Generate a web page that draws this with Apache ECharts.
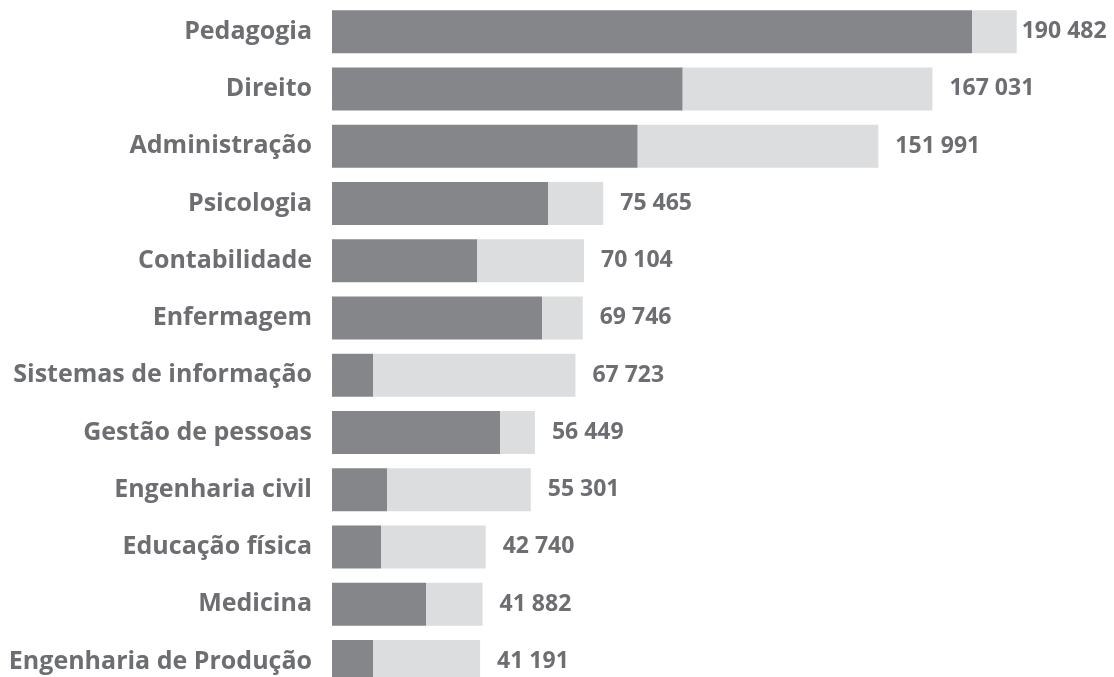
<!DOCTYPE html>
<html>
<head>
<meta charset="utf-8">
<script src="https://cdn.jsdelivr.net/npm/echarts@6/dist/echarts.min.js"></script>
<style>
html,body{margin:0;padding:0;background:#fff;overflow:hidden;}
#chart{width:1114px;height:700px;}
</style>
</head>
<body>
<div id="chart"></div>
<script>
const categories = ["Pedagogia","Direito","Administração","Psicologia","Contabilidade","Enfermagem","Sistemas de informação","Gestão de pessoas","Engenharia civil","Educação física","Medicina","Engenharia de Produção"];
const totals = [190482,167031,151991,75465,70104,69746,67723,56449,55301,42740,41882,41191];
const darkPart = [178050,97570,85050,60090,40340,58420,11410,46740,15300,13630,26150,11410];

function fmt(n){ return String(n).replace(/\B(?=(\d{3})+(?!\d))/g, " "); }

const FONT = "Open Sans";
const TEXT = "#6d6e71";

const chart = echarts.init(document.getElementById('chart'), null, {renderer:'canvas'});
chart.setOption({
  animation:false,
  grid:{left:332, top:3, width:684.7, height:687, containLabel:false},
  xAxis:{type:'value', min:0, max:190482, show:false},
  yAxis:{type:'category', data:categories, inverse:true,
    axisLine:{show:false}, axisTick:{show:false}, splitLine:{show:false},
    axisLabel:{margin:20, color:TEXT, fontFamily:FONT, fontWeight:'bold', fontSize:25,
      padding:[6,0,0,0]}},
  series:[
    {type:'bar', stack:'t', barWidth:43, data:darkPart, itemStyle:{color:'#858689'}, silent:true},
    {type:'bar', stack:'t', barWidth:43,
      data:totals.map((t,i)=>{
        const d={value:t-darkPart[i]};
        if(i===0) d.label={distance:5};
        return d;
      }),
      itemStyle:{color:'#dcddde'}, silent:true,
      label:{show:true, position:'right', distance:17, color:TEXT, fontFamily:FONT, fontWeight:'bold', fontSize:23,
        padding:[6,0,0,0],
        formatter:p=>fmt(totals[p.dataIndex])}}
  ]
});
</script>
</body>
</html>
